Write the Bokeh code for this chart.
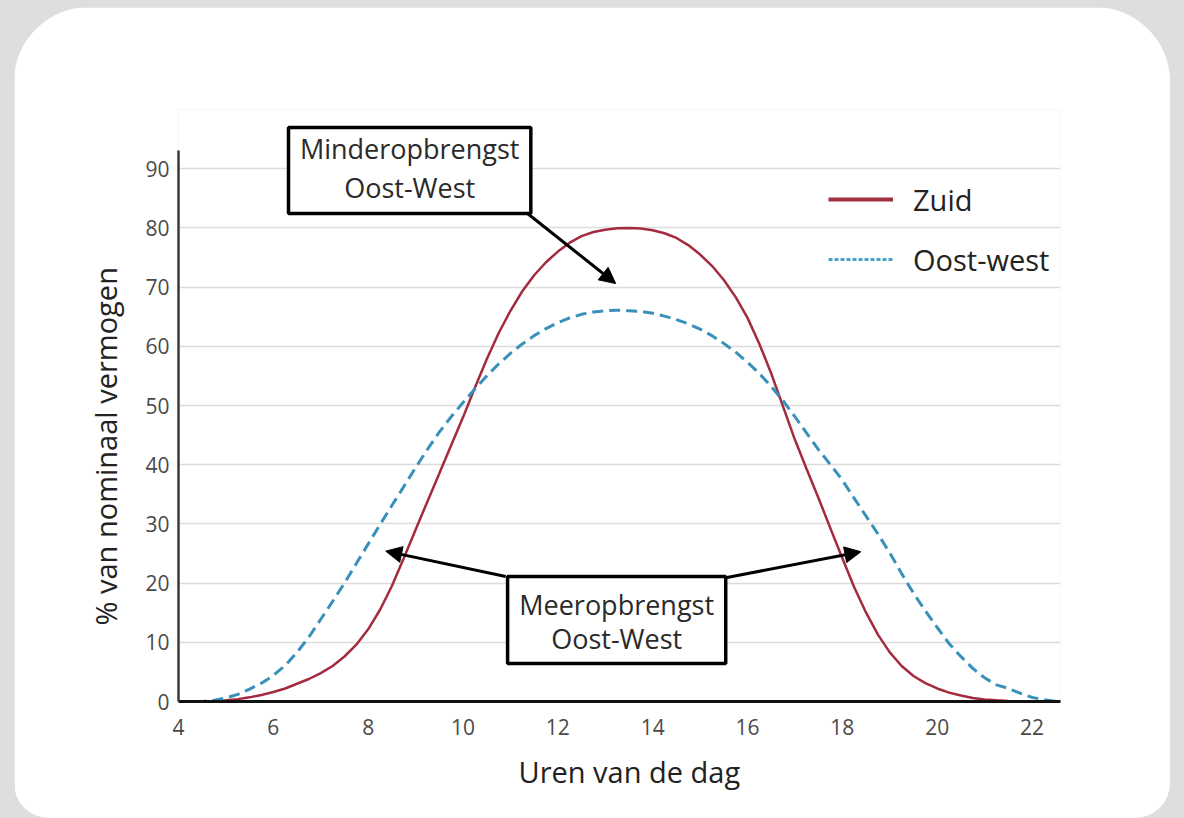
from bokeh.plotting import figure
from bokeh.layouts import column
from bokeh.models import (Range1d, FixedTicker, Legend, LegendItem, BoxAnnotation,
                          Label, Arrow, NormalHead, Title)
from bokeh.embed import file_html
from bokeh.resources import INLINE

# ---- data ----
hours = [4.0, 4.25, 4.5, 4.75, 5.0, 5.25, 5.5, 5.75, 6.0, 6.25, 6.5, 6.75, 7.0, 7.25,
         7.5, 7.75, 8.0, 8.25, 8.5, 8.75, 9.0, 9.25, 9.5, 9.75, 10.0, 10.25, 10.5,
         10.75, 11.0, 11.25, 11.5, 11.75, 12.0, 12.25, 12.5, 12.75, 13.0, 13.25, 13.5,
         13.75, 14.0, 14.25, 14.5, 14.75, 15.0, 15.25, 15.5, 15.75, 16.0, 16.25, 16.5,
         16.75, 17.0, 17.25, 17.5, 17.75, 18.0, 18.25, 18.5, 18.75, 19.0, 19.25, 19.5,
         19.75, 20.0, 20.25, 20.5, 20.75, 21.0, 21.25, 21.5, 21.75, 22.0, 22.25, 22.5]
zuid = [0, 0, 0, 0.05, 0.2, 0.4, 0.7, 1.1, 1.6, 2.2, 3.0, 3.8, 4.8, 6.0,
        7.6, 9.6, 12.2, 15.5, 19.5, 24.2, 29, 33.8, 38.5, 43.3, 48, 53, 57.8,
        62.2, 66, 69.3, 72, 74.2, 76, 77.5, 78.6, 79.3, 79.7, 79.95, 80,
        79.9, 79.6, 79.1, 78.3, 77.1, 75.5, 73.6, 71.2, 68.3, 64.8, 60.4, 55.4,
        49.8, 44.2, 39.2, 34.3, 29.2, 24.2, 19.3, 15, 11.3, 8.3, 6.0, 4.3,
        3.1, 2.2, 1.5, 1.0, 0.6, 0.35, 0.2, 0.1, 0.03, 0, 0, 0]
oost_west = [0, 0, 0, 0.2, 0.6, 1.2, 2.1, 3.1, 4.4, 6.1, 8.3, 10.9, 13.9, 16.9,
             20, 23.3, 26.6, 29.9, 33.1, 36.3, 39.5, 42.6, 45.5, 48.1, 50.5, 52.8, 55,
             57, 58.8, 60.4, 61.8, 63, 64, 64.8, 65.4, 65.8, 66, 66.1, 66,
             65.9, 65.6, 65.1, 64.5, 63.8, 62.9, 61.8, 60.5, 59.0, 57.3, 55.4, 53.2,
             50.8, 48.1, 45.3, 42.5, 40, 37.4, 34.3, 31.3, 28.3, 25.1, 21.6, 18.3,
             15.3, 12.5, 9.8, 7.6, 5.6, 4.0, 2.8, 2.2, 1.4, 0.7, 0.3, 0.05]
x_ticks = [4, 6, 8, 10, 12, 14, 16, 18, 20, 22]
y_ticks = [0, 10, 20, 30, 40, 50, 60, 70, 80, 90]
series_names = ["Zuid", "Oost-west"]

FONT = "Open Sans"
RED = "#a32b3d"
BLUE = "#3990ba"

fig = figure(width=1156, height=811, x_range=Range1d(4, 22.6), y_range=Range1d(0, 100),
             output_backend="svg", toolbar_location=None,
             min_border_left=164, min_border_right=110, min_border_top=102,
             min_border_bottom=117)
fig.margin = (7, 14, 0, 14)
fig.styles = {"border-radius": "75px 75px 35px 35px", "overflow": "hidden"}
fig.border_fill_color = "white"
fig.background_fill_color = "white"
fig.outline_line_color = None
fig.outline_line_alpha = 0

# grid
fig.xgrid.visible = False
fig.ygrid.ticker = FixedTicker(ticks=y_ticks)
fig.ygrid.grid_line_color = "#dcdcdc"
fig.ygrid.grid_line_width = 1.5

# axes
fig.xaxis.ticker = FixedTicker(ticks=x_ticks)
fig.yaxis.ticker = FixedTicker(ticks=y_ticks)
fig.yaxis.bounds = (0, 93)
for ax in (fig.xaxis[0], fig.yaxis[0]):
    ax.major_tick_line_color = None
    ax.minor_tick_line_color = None
    ax.major_label_text_font = FONT
    ax.major_label_text_font_size = "21px"
    ax.major_label_text_color = "#4a4a4a"
fig.xaxis.axis_line_color = "#111111"
fig.xaxis.axis_line_width = 3
fig.yaxis.axis_line_color = "#3a3a3a"
fig.yaxis.axis_line_width = 2.5
fig.xaxis.major_label_standoff = 11
fig.yaxis.major_label_standoff = 3

# axis titles, placed as side titles so they can be offset like the original
fig.add_layout(Title(text="Uren van de dag", align="left", offset=340, standoff=25,
                     text_font=FONT, text_font_size="29px", text_font_style="normal",
                     text_color="#222222"), "below")
fig.add_layout(Title(text="% van nominaal vermogen", align="left", offset=76, standoff=36,
                     text_font=FONT, text_font_size="29px", text_font_style="normal",
                     text_color="#222222"), "left")

# curves
r_zuid = fig.line(hours, zuid, line_color=RED, line_width=2.5)
r_ow = fig.line(hours, oost_west, line_color=BLUE, line_width=3, line_dash="11 6")

# legend swatches (single-point renderers, invisible on the chart, styled for the legend)
lg_zuid = fig.line(hours[:1], zuid[:1], line_color="#9e3040", line_width=4)
lg_ow = fig.line(hours[:1], oost_west[:1], line_color="#4aa3c8", line_width=3,
                 line_dash="4 2")

legend = Legend(items=[LegendItem(label=series_names[0], renderers=[lg_zuid]),
                       LegendItem(label=series_names[1], renderers=[lg_ow])],
                location=(650, 422), orientation="vertical",
                glyph_width=65, glyph_height=40, label_height=40, spacing=20,
                padding=0, label_standoff=20, border_line_color=None,
                background_fill_alpha=0, label_text_font=FONT,
                label_text_font_size="29px", label_text_color="#222222")
fig.add_layout(legend)

# annotation boxes
box_style = dict(fill_color="white", fill_alpha=1, line_color="black", line_alpha=1,
                 line_width=3.5)
fig.add_layout(BoxAnnotation(left=6.32, right=11.43, top=96.96, bottom=82.43, **box_style))
fig.add_layout(BoxAnnotation(left=10.94, right=15.54, top=21.1, bottom=6.42, **box_style))

label_style = dict(text_font=FONT, text_font_size="27px", text_color="#2a2a2a",
                   text_align="center", text_baseline="middle")
for (lx, ly, txt) in [(8.875, 93.4, "Minderopbrengst"), (8.875, 86.8, "Oost-West"),
                      (13.24, 16.4, "Meeropbrengst"), (13.24, 10.6, "Oost-West")]:
    fig.add_layout(Label(x=lx, y=ly, text=txt, **label_style))

for (xs, ys, xe, ye) in [(11.36, 82.43, 13.22, 70.6),
                         (10.90, 21.1, 8.37, 25.4),
                         (15.54, 20.9, 18.39, 25.3)]:
    fig.add_layout(Arrow(end=NormalHead(size=16, fill_color="black", line_color="black"),
                         x_start=xs, y_start=ys, x_end=xe, y_end=ye,
                         line_color="black", line_width=3))

p = column(fig, styles={"background-color": "#dedede"})

open("out.html", "w").write(file_html(p, INLINE))
